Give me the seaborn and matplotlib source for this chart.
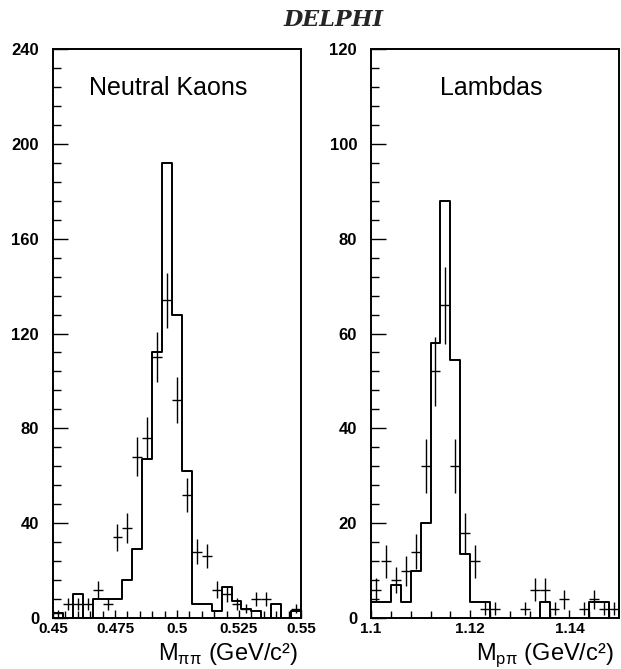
import numpy as np
import pandas as pd
import seaborn as sns
import matplotlib
matplotlib.use("Agg")
import matplotlib.pyplot as plt
from matplotlib.ticker import MultipleLocator

# ---------------- data ----------------
# Neutral kaons: 25 bins of 0.004 GeV from 0.45 to 0.55
k_edges = [round(0.45 + 0.004 * i, 4) for i in range(26)]
k_centers = [round(0.452 + 0.004 * i, 4) for i in range(25)]
k_mc = [2, 0, 10, 0, 8, 8, 8, 16, 29, 67, 112, 192, 128, 62, 6, 6, 3, 13, 7, 4, 3, 0, 6, 0, 3]
k_data = [2, 6, 6, 6, 12, 6, 34, 38, 68, 76, 110, 134, 92, 52, 28, 26, 12, 10, 6, 4, 8, 8, 0, 0, 4]

# Lambdas: 25 bins of 0.002 GeV from 1.10 to 1.15
l_edges = [round(1.10 + 0.002 * i, 4) for i in range(26)]
l_centers = [round(1.101 + 0.002 * i, 4) for i in range(25)]
l_mc = [3.4, 3.4, 7, 3.4, 10, 20, 58, 88, 54.5, 13.6, 3.4, 3.4, 0, 0, 0, 0, 0, 3.4, 0, 0, 0, 0, 3.4, 3.4, 0]
l_data = [6, 12, 8, 10, 14, 32, 52, 66, 32, 18, 12, 2, 2, 0, 0, 2, 6, 6, 2, 4, 0, 2, 4, 2, 2]

k_xticks = [0.45, 0.475, 0.5, 0.525, 0.55]
k_xticklabels = ["0.45", "0.475", "0.5", "0.525", "0.55"]
k_yticks = [0, 40, 80, 120, 160, 200, 240]
l_xticks = [1.10, 1.12, 1.14]
l_xticklabels = ["1.1", "1.12", "1.14"]
l_yticks = [0, 20, 40, 60, 80, 100, 120]

sns.set_theme(style="ticks")
plt.rcParams["font.family"] = ["Liberation Sans", "DejaVu Sans"]

fig = plt.figure(figsize=(6.21, 6.69), dpi=100)
W, H = 621, 669
def axes_px(x0, x1, ytop, ybot):
    return fig.add_axes([x0 / W, (H - ybot) / H, (x1 - x0) / W, (ybot - ytop) / H])

axL = axes_px(53, 301, 49, 618)
axR = axes_px(371, 619, 49, 618)

def draw(ax, edges, centers, mc, data, xerr, xlim, ylim, xminor, yminor,
         xticks, xticklabels, yticks, label, label_x, xlabel, xlabel_right_px):
    df_mc = pd.DataFrame({"x": centers, "w": mc})
    sns.histplot(data=df_mc, x="x", weights="w", bins=len(centers), binrange=(edges[0], edges[-1]),
                 element="step", fill=False, color="black", linewidth=1.4, ax=ax)
    d = np.array(data, dtype=float)
    c = np.array(centers, dtype=float)
    m = d > 0
    ax.errorbar(c[m], d[m], xerr=xerr, yerr=np.sqrt(d[m]),
                fmt="none", ecolor="black", elinewidth=1.0, capsize=0)
    ax.set_xlim(*xlim)
    ax.set_ylim(*ylim)
    ax.set_xticks(xticks)
    ax.set_xticklabels(xticklabels)
    ax.xaxis.set_minor_locator(MultipleLocator(xminor))
    ax.set_yticks(yticks)
    ax.yaxis.set_minor_locator(MultipleLocator(yminor))
    ax.tick_params(which="both", direction="in", color="black", width=1.0,
                   top=False, right=False, labelcolor="black")
    ax.tick_params(axis="y", which="major", length=11, labelsize=12, pad=10)
    ax.tick_params(axis="y", which="minor", length=6)
    ax.tick_params(axis="x", which="major", length=6, labelsize=11, pad=3)
    ax.tick_params(axis="x", which="minor", length=5)
    for lab in ax.get_xticklabels() + ax.get_yticklabels():
        lab.set_fontweight("bold")
    for s in ax.spines.values():
        s.set_visible(True)
        s.set_color("black")
        s.set_linewidth(1.4)
    ax.set_xlabel("")
    ax.set_ylabel("")
    ax.text(label_x, 1 - 39 / 569, label, transform=ax.transAxes, ha="center", va="center",
            fontsize=18, color="black")
    fig.text(xlabel_right_px / W, 9 / H, xlabel, ha="right", va="baseline",
             fontsize=17, color="black")

draw(axL, k_edges, k_centers, k_mc, k_data, 0.002, (0.45, 0.55), (0, 240),
     0.005, 8, k_xticks, k_xticklabels, k_yticks,
     "Neutral Kaons", 0.466, r"M$_\mathregular{ππ}$ (GeV/c²)", 298)
draw(axR, l_edges, l_centers, l_mc, l_data, 0.001, (1.10, 1.15), (0, 120),
     0.004, 4, l_xticks, l_xticklabels, l_yticks,
     "Lambdas", 0.484, r"M$_\mathregular{pπ}$ (GeV/c²)", 614)

fig.text(334 / W, 1 - 20 / H, "DELPHI", ha="center", va="center", fontsize=16,
         family="DejaVu Serif", style="italic", fontweight="bold")

fig.savefig("out.png", dpi=100, facecolor="white")
